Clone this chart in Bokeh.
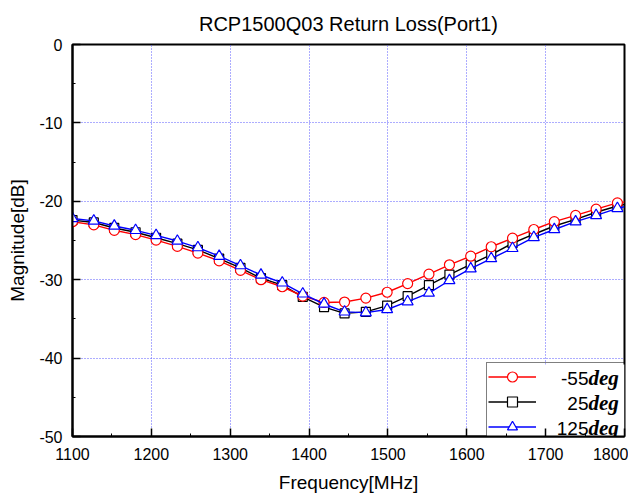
from bokeh.plotting import figure
from bokeh.models import Range1d, SingleIntervalTicker, Legend, LegendItem, PrintfTickFormatter
from bokeh.core.properties import value
from bokeh.embed import file_html
from bokeh.resources import INLINE

# ---- data ----
freq = [1100, 1127, 1153, 1180, 1206, 1233, 1259, 1286, 1313, 1339, 1366, 1392, 1419, 1445,
        1472, 1499, 1525, 1552, 1578, 1605, 1631, 1658, 1685, 1711, 1738, 1764, 1791]
freq_end = 1800

m55 = [-22.6, -23.0, -23.7, -24.25, -24.95, -25.75, -26.6, -27.6, -28.8, -30.0, -30.9, -32.1,
       -32.9, -32.85, -32.35, -31.6, -30.5, -29.3, -28.1, -27.0, -25.8, -24.7, -23.6, -22.6,
       -21.8, -21.0, -20.2]
m55_end = -20.1

p25 = [-22.4, -22.7, -23.4, -23.95, -24.65, -25.4, -26.2, -27.3, -28.5, -29.8, -30.7, -32.2,
       -33.5, -34.3, -34.1, -33.3, -32.1, -30.7, -29.35, -28.05, -26.8, -25.35, -24.2, -23.15,
       -22.3, -21.4, -20.6]
p25_end = -20.4

p125 = [-22.2, -22.5, -23.15, -23.7, -24.35, -25.07, -25.9, -27.0, -28.2, -29.4, -30.4, -31.8,
        -33.1, -34.1, -34.2, -33.8, -32.8, -31.7, -30.1, -28.6, -27.3, -26.0, -24.6, -23.6,
        -22.6, -21.8, -20.9]
p125_end = -20.7

series_nums = ["-55", "25", "125"]
series_unit = "deg"
title_text = "RCP1500Q03 Return Loss(Port1)"
x_label = "Frequency[MHz]"
y_label = "Magnitude[dB]"

SANS = "Liberation Sans"
SERIF = "Liberation Serif"

X0, X1, Y0, Y1 = 1100, 1800, -50, 0
FW, FH = 552, 392
LEG_X, LEG_Y, LEG_W, LEG_H = 414, -5, 138, 77   # legend box, frame pixels
LEG_PAD, ROW_H, GLYPH_W = 1, 25, 48
TEXT_SPLIT = 516        # px from frame left where number ends and unit starts

p = figure(frame_width=FW, frame_height=FH,
           x_range=Range1d(X0, X1), y_range=Range1d(Y0, Y1),
           output_backend="svg", toolbar_location=None,
           min_border_left=72, min_border_right=4, min_border_top=44, min_border_bottom=50,
           background_fill_color="white", border_fill_color="white")

p.title.text = title_text
p.title.align = "center"
p.title.text_font = SANS
p.title.text_font_size = "20px"
p.title.text_font_style = "normal"
p.title.text_color = "black"
p.title.standoff = 20

p.outline_line_color = "black"
p.outline_line_width = 2
p.outline_line_alpha = 1

p.xaxis.ticker = SingleIntervalTicker(interval=100, num_minor_ticks=2)
p.yaxis.ticker = SingleIntervalTicker(interval=10, num_minor_ticks=2)
p.xaxis.formatter = PrintfTickFormatter(format="%d")
p.yaxis.formatter = PrintfTickFormatter(format="%d")

for ax in (p.xaxis[0], p.yaxis[0]):
    ax.axis_line_color = "black"
    ax.axis_line_width = 2
    ax.major_tick_in = 8
    ax.major_tick_out = 0
    ax.minor_tick_in = 3
    ax.minor_tick_out = 0
    ax.major_tick_line_color = "black"
    ax.major_tick_line_width = 1.5
    ax.minor_tick_line_color = "black"
    ax.major_label_text_font = SANS
    ax.major_label_text_font_size = "16px"
    ax.major_label_text_color = "black"
    ax.axis_label_text_font = SANS
    ax.axis_label_text_font_size = "19px"
    ax.axis_label_text_font_style = "normal"
    ax.axis_label_text_color = "black"

p.xaxis.major_label_standoff = 11
p.yaxis.major_label_standoff = 10
p.xaxis.axis_label = x_label
p.yaxis.axis_label = y_label
p.xaxis.axis_label_standoff = 9
p.yaxis.axis_label_standoff = 8

for g in (p.xgrid[0], p.ygrid[0]):
    g.grid_line_color = "#5a5aff"
    g.grid_line_dash = "1 2"
    g.grid_line_width = 1

def px_to_x(px):
    return X0 + (X1 - X0) * px / FW

def px_to_y(py):
    return Y0 + (Y1 - Y0) * py / FH

# white backing for the legend box (hides the grid under it)
p.quad(left=[px_to_x(LEG_X)], right=[px_to_x(LEG_X + LEG_W)],
       bottom=[px_to_y(LEG_Y)], top=[px_to_y(LEG_Y + LEG_H)],
       fill_color="white", line_color=None)

fl = freq + [freq_end]
r_black_l = p.line(fl, p25 + [p25_end], line_color="black", line_width=1.4)
r_black_m = p.scatter(freq, p25, marker="square", size=9, line_color="black",
                      fill_color="white", line_width=1.2)
r_red_l = p.line(fl, m55 + [m55_end], line_color="red", line_width=1.4)
r_red_m = p.scatter(freq, m55, marker="circle", size=10, line_color="red",
                    fill_color="white", line_width=1.2)
r_blue_l = p.line(fl, p125 + [p125_end], line_color="blue", line_width=1.4)
r_blue_m = p.scatter(freq, p125, marker="triangle", size=11, line_color="blue",
                     fill_color="white", line_width=1.2)

legend = Legend(items=[
    LegendItem(label=value(" "), renderers=[r_red_l, r_red_m]),
    LegendItem(label=value(" "), renderers=[r_black_l, r_black_m]),
    LegendItem(label=value(" "), renderers=[r_blue_l, r_blue_m]),
], location=(LEG_X, LEG_Y), padding=LEG_PAD, margin=0, spacing=0,
    glyph_width=GLYPH_W, glyph_height=ROW_H, label_height=ROW_H,
    label_width=LEG_W - 2 * LEG_PAD - GLYPH_W, label_standoff=0,
    border_line_color="black", border_line_width=1, background_fill_alpha=0,
    label_text_font_size="12px")
p.add_layout(legend, "center")

# legend texts: number in sans, unit in bold-italic serif (as in the reference)
top_row = LEG_Y + LEG_H - LEG_PAD - ROW_H / 2
row_y = [px_to_y(top_row - i * ROW_H) for i in range(3)]
text_x = [px_to_x(TEXT_SPLIT)] * 3
p.text(x=text_x, y=row_y, text=series_nums, text_align="right", text_baseline="middle",
       text_font=value(SANS), text_font_size="19px", text_color="black")
p.text(x=text_x, y=row_y, text=[series_unit] * 3, text_align="left",
       text_baseline="middle", text_font=value(SERIF), text_font_size="21px",
       text_font_style="bold italic", text_color="black")

open("out.html", "w").write(file_html(p, INLINE))
